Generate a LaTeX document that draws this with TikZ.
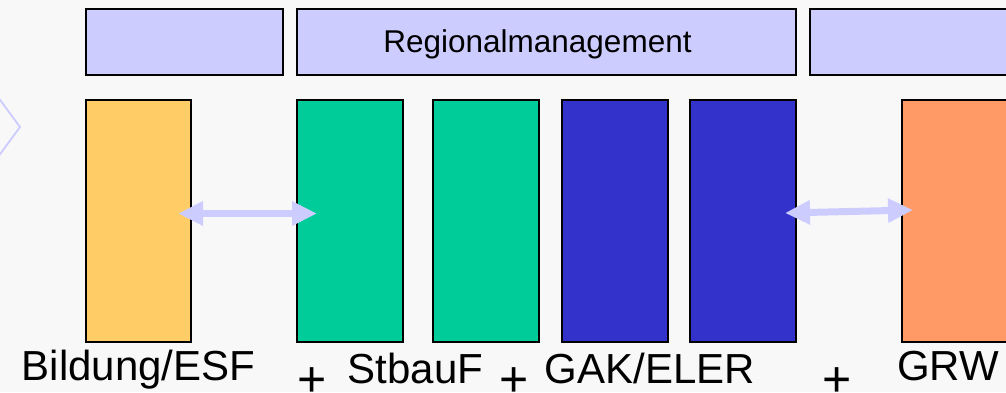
\documentclass[tikz,border=0pt]{standalone}
\usepackage{fontspec}
\setmainfont{Liberation Sans}
\usetikzlibrary{arrows.meta}
\definecolor{bg}{HTML}{F8F8F8}
\definecolor{lav}{HTML}{CCCCFF}
\definecolor{yel}{HTML}{FFCC66}
\definecolor{grn}{HTML}{00CC99}
\definecolor{blu}{HTML}{3333CC}
\definecolor{org}{HTML}{FF9966}
\tikzset{
  box/.style={draw=black, line width=2pt, inner sep=0pt, outer sep=0pt},
  topbox/.style={box, fill=lav, minimum height=66pt},
  bar/.style={box, minimum width=106pt, minimum height=242pt},
  lbl/.style={anchor=base, inner sep=0pt, font=\fontsize{42pt}{42pt}\selectfont},
  plus/.style={anchor=base, inner sep=0pt, text depth=0pt, font=\fontsize{50pt}{50pt}\selectfont},
  dbl/.style={draw=lav, line width=7pt, {Triangle[length=25pt,width=23pt]}-{Triangle[length=25pt,width=23pt]}, shorten <=0pt, shorten >=0pt}
}
\begin{document}
\begin{tikzpicture}[x=1pt,y=-1pt]
\useasboundingbox (0,0) rectangle (1006,392);
\fill[bg] (0,0) rectangle (1006,392);
% chevron
\draw[lav, line width=1.8pt] (-5,93) -- (20,127) -- (-5,161);
% top boxes
\node[topbox, minimum width=197pt] (t1) at (184.5,42) {};
\node[topbox, minimum width=499pt] (t2) at (546.5,42) {};
\node[topbox, minimum width=220pt] (t3) at (920,42) {};
\node[anchor=base, inner sep=0pt, font=\fontsize{31.5pt}{31.5pt}\selectfont] (rm) at (537.5,52) {Regionalmanagement};
% bars
\node[bar, fill=yel, minimum width=105pt] (b1) at (138.5,221) {};
\node[bar, fill=grn] (b2) at (350,221) {};
\node[bar, fill=grn] (b3) at (486,221) {};
\node[bar, fill=blu] (b4) at (615,221) {};
\node[bar, fill=blu] (b5) at (743,221) {};
\node[bar, fill=org, minimum width=140pt] (b6) at (972,221) {};
% arrows
\coordinate (a1) at ([xshift=-13pt]b1.east |- 0,213.5);
\coordinate (a2) at ([xshift=20pt]b2.west |- 0,213.5);
\coordinate (a3) at ([xshift=-11pt]b5.east |- 0,213);
\coordinate (a4) at ([xshift=11pt]b6.west |- 0,210);
\draw[dbl] (a1) -- (a2);
\draw[dbl] (a3) -- (a4);
% labels
\node[lbl] (l1) at (138.5,380) {Bildung/ESF};
\node[plus] (p1) at (312.5,396) {+};
\node[lbl] (l2) at (415.5,383) {StbauF};
\node[plus] (p2) at (514.5,396) {+};
\node[lbl] (l3) at (650,383) {GAK/ELER};
\node[plus] (p3) at (837.5,396) {+};
\node[lbl] (l4) at (948,380) {GRW};
\end{tikzpicture}
\end{document}
